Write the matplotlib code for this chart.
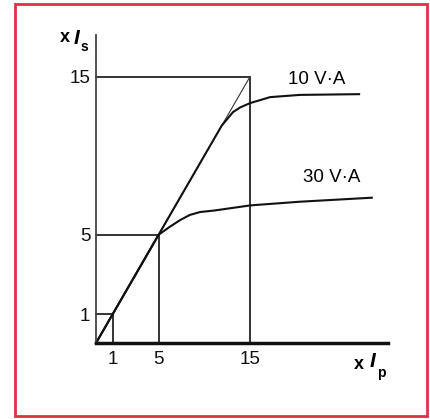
import numpy as np
import matplotlib
matplotlib.use("Agg")
import matplotlib.pyplot as plt
from matplotlib.patches import Rectangle

plt.rcParams['font.family'] = ['Liberation Sans', 'DejaVu Sans']

# values (multiples of rated current)
ticks = [1, 5, 15]
tick_labels = ['1', '5', '15']

ip_10va = [0, 5, 11.7, 13.0, 13.8, 15, 16.2, 17.4, 21.1, 28.8]
is_10va = [0, 5, 11.7, 12.6, 12.9, 13.2, 13.4, 13.6, 13.75, 13.8]

ip_30va = [0, 5, 6.1, 7.2, 8.2, 9.3, 10.9, 15, 21.1, 30.5]
is_30va = [0, 5, 5.45, 5.85, 6.14, 6.31, 6.4, 6.7, 6.92, 7.16]

labels = ['10 V·A', '30 V·A']

# the drawing is not linear: a power scale fits it
P = 0.82
def fwd(v):
    return np.power(np.clip(v, 0, None), P)
def inv(u):
    return np.power(np.clip(u, 0, None), 1.0 / P)

W, H = 430, 419
fig = plt.figure(figsize=(W / 100, H / 100), dpi=100)
ax = fig.add_axes([96 / W, (H - 343) / H, 292 / W, 308 / H])
ax.set_xscale('function', functions=(fwd, inv))
ax.set_yscale('function', functions=(fwd, inv))
ax.set_xlim(0, 32.7)
ax.set_ylim(0, 17.9)

# guide boxes at 1, 5 and 15
for t in ticks:
    ax.plot([0, t, t], [t, t, 0], color='#111111', lw=1.2, clip_on=False)

# ideal ratio line
ax.plot([0, 15], [0, 15], color='#333333', lw=0.8)

ax.plot(ip_10va, is_10va, color='#111111', lw=1.5, clip_on=False,
        solid_joinstyle='round')
ax.plot(ip_30va, is_30va, color='#111111', lw=1.5, clip_on=False,
        solid_joinstyle='round')

for s in ['top', 'right']:
    ax.spines[s].set_visible(False)
ax.spines['left'].set_color('#444444')
ax.spines['left'].set_linewidth(1.3)
ax.spines['bottom'].set_color('#111111')
ax.spines['bottom'].set_linewidth(2.5)

ax.set_xticks(ticks)
ax.set_xticklabels(tick_labels)
ax.set_yticks(ticks)
ax.set_yticklabels(tick_labels)
ax.minorticks_off()
ax.tick_params(which='both', length=0, labelsize=13.5, colors='#111111')
ax.tick_params(axis='x', pad=6)
ax.tick_params(axis='y', pad=4)

def px(x, y):
    return x / W, 1 - y / H

fig.text(*px(288, 79), labels[0], fontsize=13.5, va='center', ha='left')
fig.text(*px(303, 178), labels[1], fontsize=13.5, va='center', ha='left')

# axis names
fig.text(*px(60, 37), 'x', fontsize=13, fontweight='bold', va='center', ha='left')
fig.text(*px(74, 39), 'I', fontsize=15, fontweight='bold', style='italic', va='center', ha='left')
fig.text(*px(81, 47), 's', fontsize=10, fontweight='bold', va='center', ha='left')

fig.text(*px(354, 364), 'x', fontsize=13, fontweight='bold', va='center', ha='left')
fig.text(*px(370, 361), 'I', fontsize=15, fontweight='bold', style='italic', va='center', ha='left')
fig.text(*px(377, 373), 'p', fontsize=10, fontweight='bold', va='center', ha='left')

# red frame
fig.patches.append(Rectangle((15 / W, 3 / H), 412 / W, 412 / H, transform=fig.transFigure,
                             fill=False, edgecolor='#e0304a', lw=2))

fig.savefig('out.png', dpi=100)
